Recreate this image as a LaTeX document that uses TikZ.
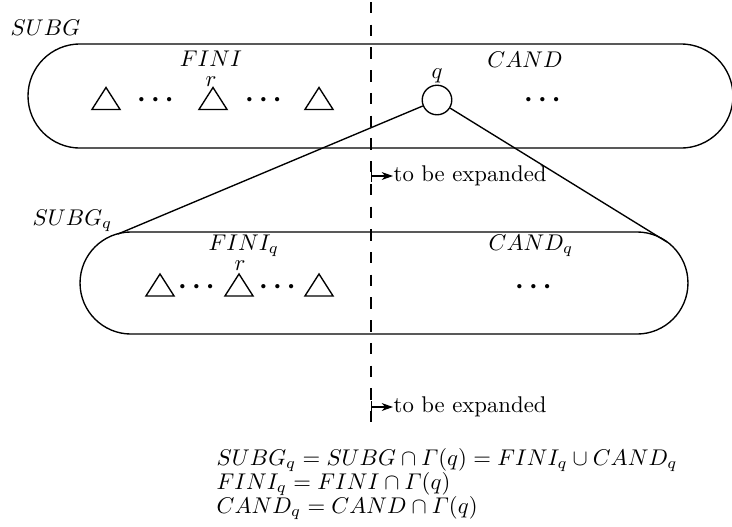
\documentclass[tikz,border=0pt]{standalone}
\usepackage{amsmath}
\usetikzlibrary{shapes.geometric,shapes.misc,arrows.meta}
\begin{document}
\begin{tikzpicture}[x=0.44pt,y=-0.44pt, line width=0.6pt,
  stad/.style={draw, rounded rectangle, inner sep=0pt},
  tri/.pic={\draw (-6.2pt,-4.85pt) -- (0pt,4.85pt) -- (6.2pt,-4.85pt) -- cycle;},
  lab/.style={inner sep=0pt, anchor=base},
  labw/.style={inner sep=0pt, anchor=base west},
  dts/.style={inner sep=0pt, anchor=base, font=\fontsize{12}{14}\selectfont\boldmath},
  dashln/.style={dash pattern=on 5pt off 5pt, line width=0.45pt},
  exparrow/.style={{Bar[width=5pt]}-{Stealth[length=5pt,width=3.5pt]}, line width=0.5pt}]
\useasboundingbox (0,0) rectangle (732,526);
% dashed divider
\coordinate (dtop) at (371,2);
\coordinate (dbot) at (371,432);
\draw[dashln] (dtop) -- (dbot);
% upper stadium
\node[stad, minimum width=310.2pt, minimum height=45.8pt] (S) at (380.5,96) {};
\node[labw] (Slab) at (10,35) {$SUBG$};
\node[lab] (Fl) at (211,66) {$FINI$};
\node[lab] (Cl) at (525,67) {$CAND$};
\pic at (106,98.5) {tri};
\pic at (213,98.5) {tri};
\pic at (319,98.5) {tri};
\node[dts] (d1) at (158,106.8) {$\cdots$};
\node[dts] (d2) at (266,106.8) {$\cdots$};
\node[lab] (r1) at (211,86) {$r$};
\node[draw, circle, minimum size=13pt, inner sep=0pt] (q) at (437,100) {};
\node[lab] (ql) at (437,78) {$q$};
\node[dts] (d3) at (545,106.8) {$\cdots$};
% connectors to lower stadium
\coordinate (l1) at (118,234);
\coordinate (l2) at (667,242);
\draw (q) -- (l1);
\draw (q) -- (l2);
% first expansion arrow
\coordinate (a1) at (371,176);
\node[anchor=west, inner sep=0pt] (e1) at (393,176) {to be expanded};
\draw[exparrow] (a1) -- (e1.west);
% lower stadium
\node[stad, minimum width=267.5pt, minimum height=44.9pt] (Sq) at (384,283) {};
\node[labw] (Sqlab) at (32,225) {$SUBG_q$};
\node[labw] (Fql) at (208,250) {$FINI_q$};
\node[labw] (Cql) at (488,250) {$CAND_q$};
\pic at (160,285) {tri};
\pic at (239,285) {tri};
\pic at (319,285) {tri};
\node[dts] (e2a) at (199,293.8) {$\cdots$};
\node[dts] (e2b) at (280,293.8) {$\cdots$};
\node[lab] (r2) at (240,270) {$r$};
\node[dts] (e2c) at (536,293.8) {$\cdots$};
% second expansion arrow
\coordinate (a2) at (371,407);
\node[anchor=west, inner sep=0pt] (e2) at (393,407) {to be expanded};
\draw[exparrow] (a2) -- (e2.west);
% equations
\node[labw] (eq1) at (216,465) {$SUBG_q = SUBG\cap\varGamma(q) = FINI_q\cup CAND_q$};
\node[labw] (eq2) at (216,489) {$FINI_q = FINI\cap\varGamma(q)$};
\node[labw] (eq3) at (216,513) {$CAND_q = CAND\cap\varGamma(q)$};
\end{tikzpicture}
\end{document}
